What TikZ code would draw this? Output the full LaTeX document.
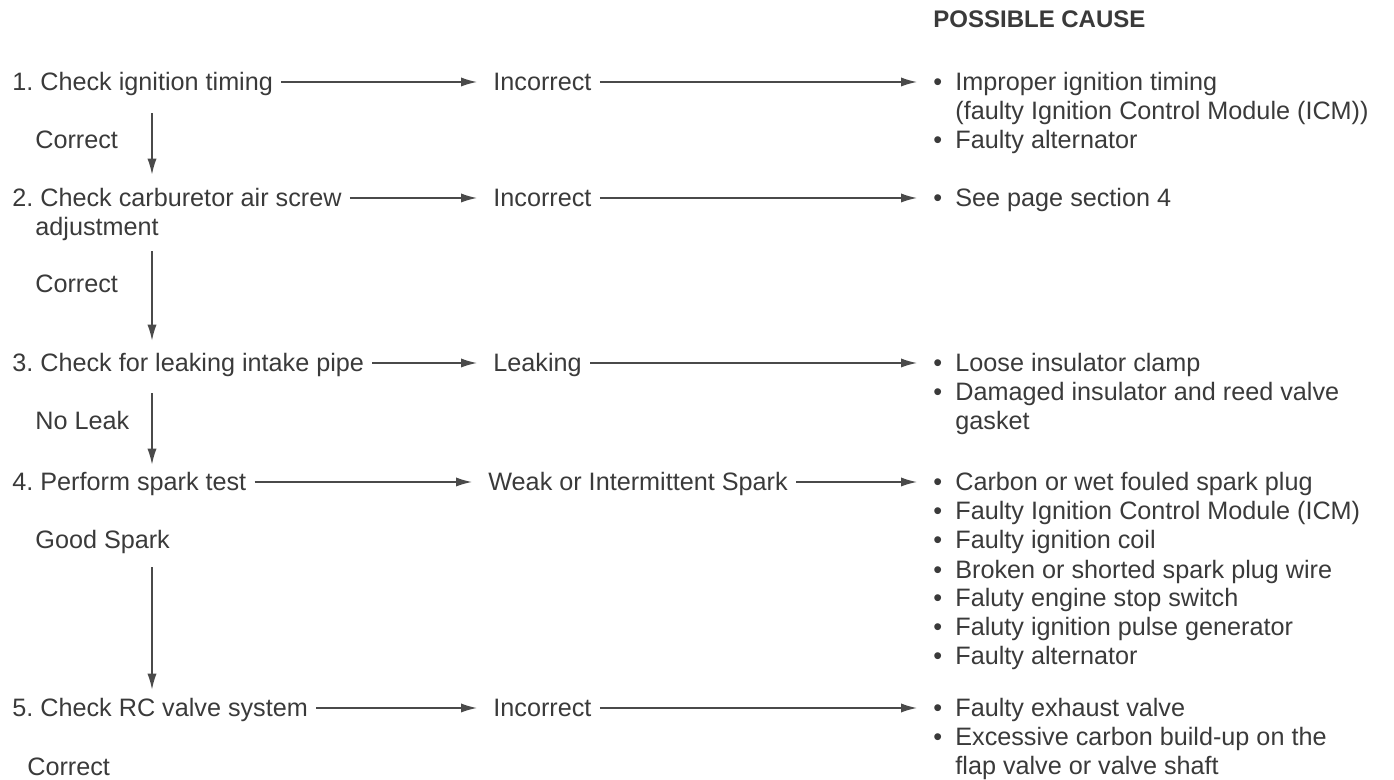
\documentclass[tikz,border=0pt]{standalone}
\usepackage{fontspec}
\setmainfont{Liberation Sans}
\usetikzlibrary{arrows.meta,positioning}
\definecolor{ink}{HTML}{3A3A3A}
\definecolor{wire}{HTML}{4A4A4A}
\newcommand{\itm}{\makebox[11pt][l]{•}}
\newcommand{\ind}{\hspace*{11pt}}
\frenchspacing

\begin{document}
\begin{tikzpicture}[x=0.5pt,y=-0.5pt,
  txt/.style={font=\fontsize{12.6}{14.5}\selectfont, text=ink, inner xsep=4pt, inner ysep=0pt,
    text height=9pt, text depth=0pt, anchor=base west},
  cause/.style={font=\fontsize{12.6}{14.5}\selectfont, text=ink, inner xsep=4pt, inner ysep=0pt,
    align=left, anchor=base west},
  flow/.style={draw=wire, line width=0.7pt, -{Latex[length=8pt,width=4.6pt]}, shorten >=4pt}]
  \useasboundingbox (0,0) rectangle (1394,780);
  \coordinate (vx) at (152,0);

  % column heading
  \node[txt, font=\fontsize{12}{14}\selectfont\bfseries] (head) at (925,28) {POSSIBLE CAUSE};

  % checks
  \node[txt] (s1) at (4,91) {1. Check ignition timing};
  \node[txt] (s2) at (4,207) {2. Check carburetor air screw};
  \node[txt] (s2b) at (27,236) {adjustment};
  \node[txt] (s3) at (4,372) {3. Check for leaking intake pipe};
  \node[txt] (s4) at (4,491) {4. Perform spark test};
  \node[txt] (s5) at (4,717) {5. Check RC valve system};

  % results that go on
  \node[txt] (l1) at (27,149) {Correct};
  \node[txt] (l2) at (27,293) {Correct};
  \node[txt] (l3) at (27,430) {No Leak};
  \node[txt] (l4) at (27,549) {Good Spark};
  \node[txt] (l5) at (19,776) {Correct};

  % results that stop
  \node[txt] (o1) at (485,91) {Incorrect};
  \node[txt] (o2) at (485,207) {Incorrect};
  \node[txt] (o3) at (485,372) {Leaking};
  \node[txt] (o4) at (480,491) {Weak or Intermittent Spark};
  \node[txt] (o5) at (485,717) {Incorrect};

  % causes (placed by the baseline of their last line)
  \node[cause] (c1) at (925,149) {\itm Improper ignition timing\\
    \ind(faulty Ignition Control Module (ICM))\\
    \itm Faulty alternator};
  \node[cause] (c2) at (925,207) {\itm See page section 4};
  \node[cause] (c3) at (925,430) {\itm Loose insulator clamp\\
    \itm Damaged insulator and reed valve\\
    \ind gasket};
  \node[cause] (c4) at (925,665) {\itm Carbon or wet fouled spark plug\\
    \itm Faulty Ignition Control Module (ICM)\\
    \itm Faulty ignition coil\\
    \itm Broken or shorted spark plug wire\\
    \itm Faluty engine stop switch\\
    \itm Faluty ignition pulse generator\\
    \itm Faulty alternator};
  \node[cause] (c5) at (925,775) {\itm Faulty exhaust valve\\
    \itm Excessive carbon build-up on the\\
    \ind flap valve or valve shaft};

  % horizontal arrows
  \draw[flow] (s1) -- (o1);
  \draw[flow] (s2) -- (o2);
  \draw[flow] (s3) -- (o3);
  \draw[flow] (s4) -- (o4);
  \draw[flow] (s5) -- (o5);
  \draw[flow] (o1.east) -- (o1.east -| c1.west);
  \draw[flow] (o2.east) -- (o2.east -| c2.west);
  \draw[flow] (o3.east) -- (o3.east -| c3.west);
  \draw[flow] (o4.east) -- (o4.east -| c4.west);
  \draw[flow] (o5.east) -- (o5.east -| c5.west);

  % vertical arrows
  \draw[flow, shorten <=11pt, shorten >=7pt] (s1.south -| vx) -- (s2.north -| vx);
  \draw[flow, shorten <=7.5pt, shorten >=6.5pt] (s2b.south -| vx) -- (s3.north -| vx);
  \draw[flow, shorten <=10.5pt, shorten >=4pt] (s3.south -| vx) -- (s4.north -| vx);
  \draw[flow, shorten <=9pt, shorten >=4.5pt] (l4.south -| vx) -- (s5.north -| vx);
\end{tikzpicture}
\end{document}
